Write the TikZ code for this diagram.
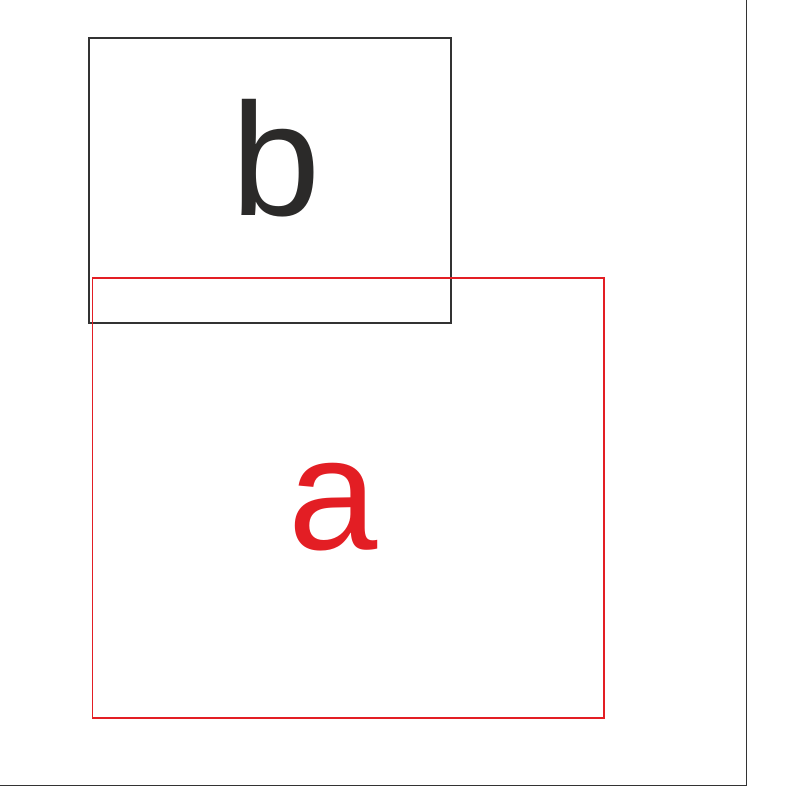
\documentclass[tikz,border=0pt]{standalone}
\usepackage{fontspec}
\setmainfont{Liberation Sans}
\definecolor{ared}{HTML}{E31E24}
\definecolor{bdark}{HTML}{2B2A29}
\definecolor{frame}{HTML}{333333}
\begin{document}
\begin{tikzpicture}[x=1bp,y=-1bp,
  boxstyle/.style={draw, line width=1.1bp, inner sep=0pt, outer sep=0pt},
  letter/.style={inner sep=0pt, anchor=base, font=\fontsize{161}{161}\selectfont}]
\useasboundingbox (0,0) rectangle (810,797);
\draw[frame, line width=1.4bp] (746.5,-5) -- (746.5,785.5) -- (-5,785.5);
\node[boxstyle, draw=frame, minimum width=362bp, minimum height=285bp] (bbox) at (270,180.5) {};
\node[boxstyle, draw=ared, minimum width=511.5bp, minimum height=440bp] (abox) at (348.25,498) {};
\node[letter, text=bdark] (bl) at (276.5,215) {b};
\node[letter, text=ared] (al) at (333.5,549) {a};
\end{tikzpicture}
\end{document}
